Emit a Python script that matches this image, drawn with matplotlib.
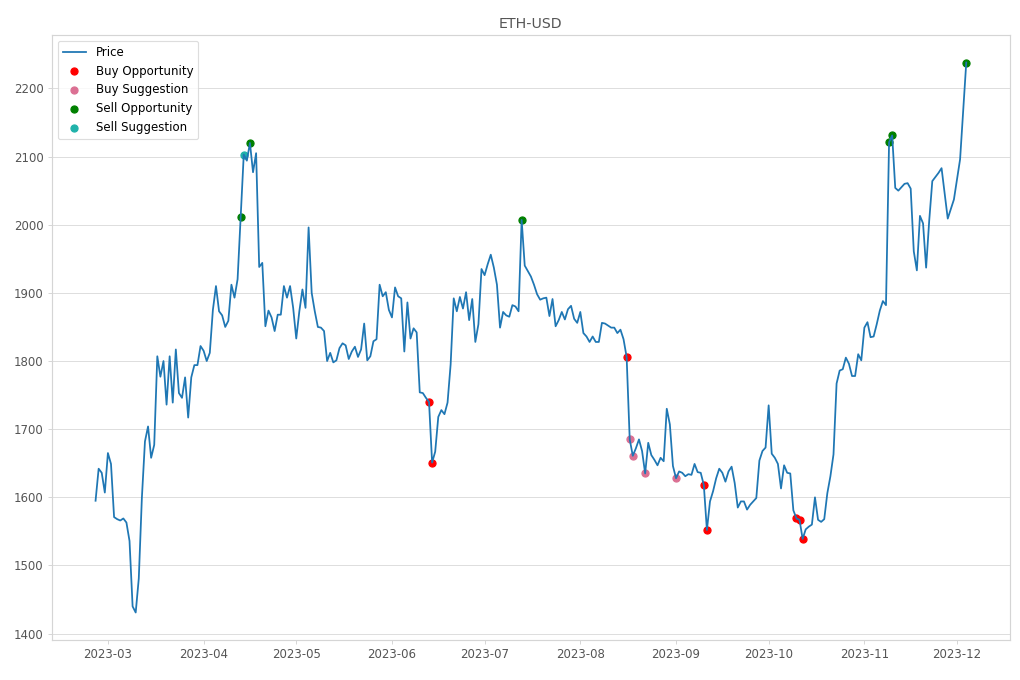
import matplotlib
matplotlib.use('Agg')
import matplotlib.pyplot as plt
import pandas as pd

# daily closes, starting 2023-02-25
start_date = '2023-02-25'
prices = [
    1595, 1642, 1636, 1607, 1665, 1649, 1571, 1568, 1566, 1569,
    1563, 1536, 1440, 1431, 1481, 1599, 1682, 1704, 1658, 1677,
    1807, 1777, 1800, 1736, 1807, 1739, 1817, 1753, 1746, 1776,
    1717, 1776, 1794, 1794, 1822, 1815, 1800, 1812, 1875, 1910,
    1873, 1867, 1850, 1859, 1912, 1893, 1920, 2012, 2103, 2094,
    2120, 2077, 2105, 1938, 1944, 1851, 1874, 1864, 1844, 1868,
    1868, 1910, 1893, 1910, 1878, 1833, 1873, 1905, 1878, 1996,
    1900, 1873, 1850, 1849, 1844, 1800, 1812, 1798, 1801, 1819,
    1826, 1823, 1803, 1814, 1821, 1806, 1817, 1855, 1801, 1807,
    1829, 1832, 1912, 1895, 1901, 1875, 1864, 1908, 1895, 1892,
    1814, 1886, 1833, 1848, 1842, 1754, 1753, 1746, 1740, 1651,
    1667, 1718, 1728, 1722, 1739, 1795, 1892, 1873, 1894, 1877,
    1901, 1860, 1891, 1828, 1854, 1935, 1926, 1942, 1956, 1937,
    1912, 1849, 1872, 1867, 1865, 1882, 1880, 1873, 2007, 1940,
    1932, 1924, 1912, 1898, 1890, 1892, 1893, 1866, 1891, 1851,
    1860, 1872, 1861, 1876, 1881, 1862, 1856, 1872, 1841, 1836,
    1828, 1836, 1828, 1828, 1856, 1855, 1852, 1849, 1849, 1841,
    1846, 1832, 1806, 1685, 1661, 1672, 1685, 1668, 1635, 1680,
    1662, 1655, 1647, 1658, 1653, 1730, 1707, 1646, 1628, 1638,
    1636, 1631, 1634, 1633, 1649, 1637, 1636, 1618, 1552, 1594,
    1609, 1628, 1642, 1636, 1623, 1638, 1645, 1621, 1585, 1594,
    1594, 1582, 1589, 1594, 1599, 1654, 1668, 1673, 1735, 1664,
    1658, 1649, 1613, 1647, 1636, 1635, 1581, 1569, 1567, 1539,
    1553, 1557, 1560, 1600, 1567, 1564, 1568, 1606, 1631, 1663,
    1767, 1786, 1788, 1805, 1796, 1778, 1778, 1810, 1801, 1849,
    1857, 1835, 1836, 1854, 1874, 1888, 1882, 2121, 2131, 2054,
    2050, 2055, 2060, 2061, 2053, 1961, 1933, 2013, 2002, 1937,
    2006, 2064, 2070, 2076, 2083, 2046, 2009, 2023, 2037, 2066,
    2096, 2167, 2238,
]

# positions (day index) of the signal markers
buy_opportunity = [108, 109, 172, 197, 198, 227, 228, 229]
buy_suggestion = [173, 174, 178, 188]
sell_opportunity = [47, 50, 138, 257, 258, 282]
sell_suggestion = [48]

dates = pd.date_range(start_date, periods=len(prices), freq='D')
df = pd.DataFrame({'Close': prices}, index=dates)

plt.rcParams.update({
    'axes.edgecolor': '#d5d5d5',
    'axes.linewidth': 1.0,
    'xtick.color': '#d5d5d5',
    'ytick.color': '#d5d5d5',
    'xtick.labelcolor': '#555555',
    'ytick.labelcolor': '#555555',
    'grid.color': '#dddddd',
    'legend.edgecolor': '#d5d5d5',
})

fig, ax = plt.subplots(figsize=(12, 8), dpi=85)
fig.subplots_adjust(left=0.051, right=0.99, top=0.9485, bottom=0.0588)

ax.plot(df.index, df['Close'], label='Price', color='#1f77b4', linewidth=1.5)
ax.scatter(df.index[buy_opportunity], df['Close'].iloc[buy_opportunity],
           color='red', label='Buy Opportunity')
ax.scatter(df.index[buy_suggestion], df['Close'].iloc[buy_suggestion],
           color='palevioletred', label='Buy Suggestion')
ax.scatter(df.index[sell_opportunity], df['Close'].iloc[sell_opportunity],
           color='green', label='Sell Opportunity')
ax.scatter(df.index[sell_suggestion], df['Close'].iloc[sell_suggestion],
           color='lightseagreen', label='Sell Suggestion')

ax.set_title('ETH-USD', color='#555555')
ax.grid(True, axis='y')
ax.set_axisbelow(True)
ax.legend(loc='upper left')

fig.savefig('out.png', dpi=85)
